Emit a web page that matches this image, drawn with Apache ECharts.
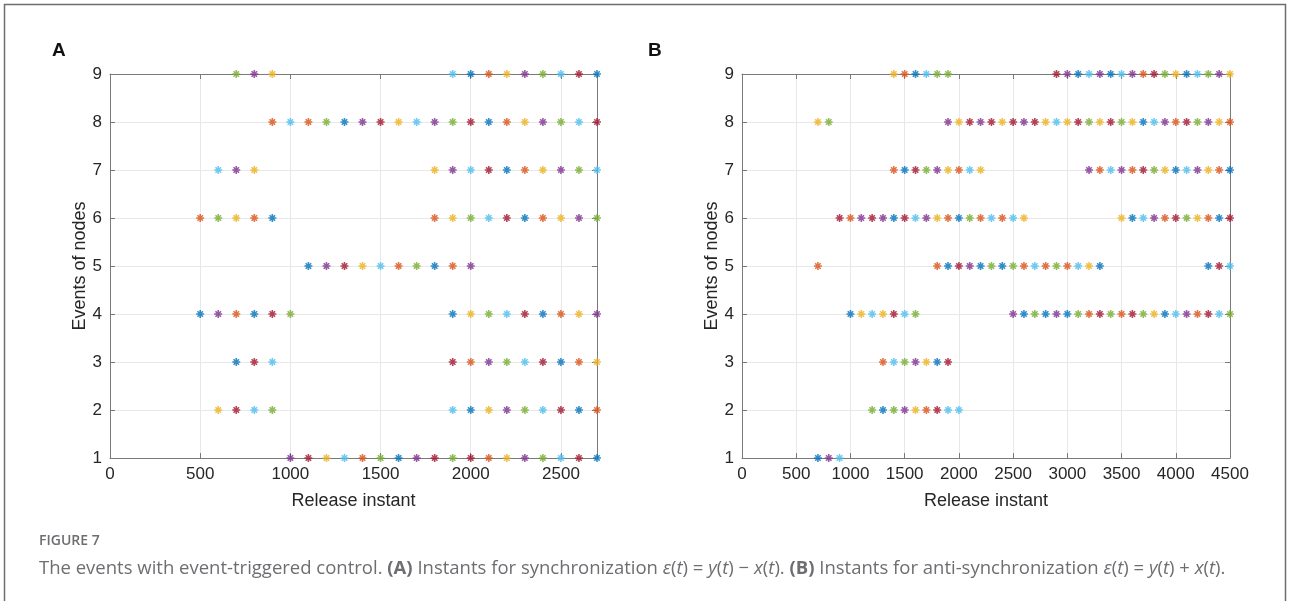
<!DOCTYPE html>
<html>
<head>
<meta charset="utf-8">
<script src="https://cdn.jsdelivr.net/npm/echarts@6/dist/echarts.min.js"></script>
<style>
html,body{margin:0;padding:0;background:#fff;}
#chart{width:1290px;height:601px;}
</style>
</head>
<body>
<div id="chart"></div>
<script>
// MATLAB default colour order, keyed by letter
const COLORS = {b:'#0072BD', o:'#D95319', y:'#EDB120', p:'#7E2F8E', g:'#77AC30', c:'#4DBEEE', r:'#A2142F'};

const yTicks = [1,2,3,4,5,6,7,8,9];

// ---- Panel A: release instants per node (row) and marker colour letters ----
const A1x = [1000,1100,1200,1300,1400,1500,1600,1700,1800,1900,2000,2100,2200,2300,2400,2500,2600,2700];
const A1c = ['p','r','y','c','o','g','b','p','r','g','r','o','y','p','g','c','r','b'];
const A2x = [600,700,800,900,1900,2000,2100,2200,2300,2400,2500,2600,2700];
const A2c = ['y','r','c','g','c','b','y','p','g','c','r','b','o'];
const A3x = [700,800,900,1900,2000,2100,2200,2300,2400,2500,2600,2700];
const A3c = ['b','r','c','r','o','p','g','c','r','b','o','y'];
const A4x = [500,600,700,800,900,1000,1900,2000,2100,2200,2300,2400,2500,2600,2700];
const A4c = ['b','p','o','b','r','g','b','y','g','c','r','b','o','y','p'];
const A5x = [1100,1200,1300,1400,1500,1600,1700,1800,1900,2000];
const A5c = ['b','p','r','y','c','o','g','b','o','p'];
const A6x = [500,600,700,800,900,1800,1900,2000,2100,2200,2300,2400,2500,2600,2700];
const A6c = ['o','g','y','o','b','o','y','g','c','r','b','o','y','p','g'];
const A7x = [600,700,800,1800,1900,2000,2100,2200,2300,2400,2500,2600,2700];
const A7c = ['c','p','y','y','p','c','r','b','o','y','p','g','c'];
const A8x = [900,1000,1100,1200,1300,1400,1500,1600,1700,1800,1900,2000,2100,2200,2300,2400,2500,2600,2700];
const A8c = ['o','c','o','g','b','p','r','y','c','p','g','r','b','o','y','p','g','c','r'];
const A9x = [700,800,900,1900,2000,2100,2200,2300,2400,2500,2600,2700];
const A9c = ['g','p','y','c','b','o','y','p','g','c','r','b'];

// ---- Panel B ----
const B1x = [700,800,900];
const B1c = ['b','p','c'];
const B2x = [1200,1300,1400,1500,1600,1700,1800,1900,2000];
const B2c = ['g','b','g','p','y','o','r','c','c'];
const B3x = [1300,1400,1500,1600,1700,1800,1900];
const B3c = ['o','c','g','p','y','b','r'];
const B4x = [1000,1100,1200,1300,1400,1500,1600,2500,2600,2700,2800,2900,3000,3100,3200,3300,3400,3500,3600,3700,3800,3900,4000,4100,4200,4300,4400,4500];
const B4c = ['b','y','c','y','r','c','g','p','b','g','b','p','b','g','o','r','g','o','r','g','y','b','c','p','o','r','c','g'];
const B5x = [700,1800,1900,2000,2100,2200,2300,2400,2500,2600,2700,2800,2900,3000,3100,3200,3300,4300,4400,4500];
const B5c = ['o','o','b','r','p','b','g','b','g','o','c','o','g','o','c','y','b','b','r','c'];
const B6x = [900,1000,1100,1200,1300,1400,1500,1600,1700,1800,1900,2000,2100,2200,2300,2400,2500,2600,3500,3600,3700,3800,3900,4000,4100,4200,4300,4400,4500];
const B6c = ['r','o','p','r','p','b','r','c','p','y','o','b','g','o','c','o','c','y','y','b','c','p','o','r','g','y','o','b','r'];
const B7x = [1400,1500,1600,1700,1800,1900,2000,2100,2200,3200,3300,3400,3500,3600,3700,3800,3900,4000,4100,4200,4300,4400,4500];
const B7c = ['o','b','r','g','p','y','o','c','y','p','o','c','p','o','r','g','y','b','c','p','y','o','b'];
const B8x = [700,800,1900,2000,2100,2200,2300,2400,2500,2600,2700,2800,2900,3000,3100,3200,3300,3400,3500,3600,3700,3800,3900,4000,4100,4200,4300,4400,4500];
const B8c = ['y','g','p','y','r','p','r','y','r','p','r','y','c','y','r','g','y','r','g','y','b','c','p','o','r','g','p','y','o'];
const B9x = [1400,1500,1600,1700,1800,1900,2900,3000,3100,3200,3300,3400,3500,3600,3700,3800,3900,4000,4100,4200,4300,4400,4500];
const B9c = ['y','o','b','c','g','g','r','p','b','c','p','b','c','p','o','r','g','y','b','c','g','p','y'];

const rowsA = [[A1x,A1c],[A2x,A2c],[A3x,A3c],[A4x,A4c],[A5x,A5c],[A6x,A6c],[A7x,A7c],[A8x,A8c],[A9x,A9c]];
const rowsB = [[B1x,B1c],[B2x,B2c],[B3x,B3c],[B4x,B4c],[B5x,B5c],[B6x,B6c],[B7x,B7c],[B8x,B8c],[B9x,B9c]];

const STAR = 'path://M5,0L5,10M0,5L10,5M1.6,1.6L8.4,8.4M1.6,8.4L8.4,1.6';
const TICK_FONT = {fontFamily:'Liberation Sans', fontSize:17, color:'#262626'};
const NAME_FONT = {fontFamily:'Liberation Sans', fontSize:18, color:'#262626'};
const plain = v => String(v);

function makeSeries(rows, axisIdx){
  return rows.map(([xs, cs], i) => ({
    type:'scatter', xAxisIndex:axisIdx, yAxisIndex:axisIdx,
    symbol:STAR, symbolSize:8, z:5,
    itemStyle:{color:'rgba(0,0,0,0)', borderWidth:1.6},
    emphasis:{disabled:true},
    data: xs.map((x,k) => ({value:[x, yTicks[i]], itemStyle:{borderColor:COLORS[cs[k]], borderWidth:1.6, color:'rgba(0,0,0,0)'}}))
  }));
}

function mainX(grid, max){
  return {gridIndex:grid, type:'value', min:0, max:max, interval:500, position:'bottom',
    name:'Release instant', nameLocation:'middle', nameGap:34, nameTextStyle:NAME_FONT,
    axisLine:{show:true, onZero:false, lineStyle:{color:'#7a7a7a', width:1}},
    axisTick:{show:true, inside:true, length:5, lineStyle:{color:'#7a7a7a'}},
    axisLabel:Object.assign({margin:8, formatter:plain, showMaxLabel: max % 500 === 0}, TICK_FONT),
    splitLine:{show:true, lineStyle:{color:'#e8e8e8', width:1}}};
}
function topX(grid, max){
  return {gridIndex:grid, type:'value', min:0, max:max, interval:500, position:'top',
    axisLine:{show:true, onZero:false, lineStyle:{color:'#7a7a7a', width:1}},
    axisTick:{show:true, inside:true, length:5, lineStyle:{color:'#7a7a7a'}},
    axisLabel:{show:false}, splitLine:{show:false}};
}
function mainY(grid){
  return {gridIndex:grid, type:'value', min:1, max:9, interval:1, position:'left',
    name:'Events of nodes', nameLocation:'middle', nameGap:16, nameTextStyle:NAME_FONT,
    axisLine:{show:true, onZero:false, lineStyle:{color:'#7a7a7a', width:1}},
    axisTick:{show:true, inside:true, length:5, lineStyle:{color:'#7a7a7a'}},
    axisLabel:Object.assign({margin:8, formatter:plain}, TICK_FONT),
    splitLine:{show:true, lineStyle:{color:'#e8e8e8', width:1}}};
}
function rightY(grid){
  return {gridIndex:grid, type:'value', min:1, max:9, interval:1, position:'right',
    axisLine:{show:true, onZero:false, lineStyle:{color:'#7a7a7a', width:1}},
    axisTick:{show:true, inside:true, length:5, lineStyle:{color:'#7a7a7a'}},
    axisLabel:{show:false}, splitLine:{show:false}};
}

const chart = echarts.init(document.getElementById('chart'), null, {renderer:'canvas'});
const option = {
  animation:false,
  backgroundColor:'#ffffff',
  grid:[
    {left:110, top:74, width:487, height:384, containLabel:false},
    {left:742, top:74, width:488, height:384, containLabel:false}
  ],
  xAxis:[mainX(0,2700), mainX(1,4500), topX(0,2700), topX(1,4500)],
  yAxis:[mainY(0), mainY(1), rightY(0), rightY(1)],
  series:[...makeSeries(rowsA,0), ...makeSeries(rowsB,1)],
  graphic:[
    {type:'rect', shape:{x:4.5, y:4.5, width:1281, height:620}, style:{fill:'none', stroke:'#6e6e6e', lineWidth:1.5}, silent:true},
    {type:'text', left:52, top:41, style:{text:'A', fontFamily:'Liberation Sans', fontWeight:'bold', fontSize:19, fill:'#111'}},
    {type:'text', left:648, top:41, style:{text:'B', fontFamily:'Liberation Sans', fontWeight:'bold', fontSize:19, fill:'#111'}},
    {type:'text', left:39, top:534, style:{text:'FIGURE 7', fontFamily:'Open Sans', fontWeight:600, fontSize:14, fill:'#6d6e71'}},
    {type:'text', left:39, top:559, style:{
      text:'The events with event-triggered control. {b|(A)} Instants for synchronization {i|ε}({i|t}) = {i|y}({i|t}) − {i|x}({i|t}). {b|(B)} Instants for anti-synchronization {i|ε}({i|t}) = {i|y}({i|t}) + {i|x}({i|t}).',
      fontFamily:'Open Sans', fontSize:18.5, fill:'#6d6e71',
      rich:{
        b:{fontFamily:'Open Sans', fontWeight:'bold', fontSize:18.5, fill:'#6d6e71'},
        i:{fontFamily:'Open Sans', fontStyle:'italic', fontSize:18.5, fill:'#6d6e71'}
      }}}
  ]
};
chart.setOption(option);
</script>
</body>
</html>
